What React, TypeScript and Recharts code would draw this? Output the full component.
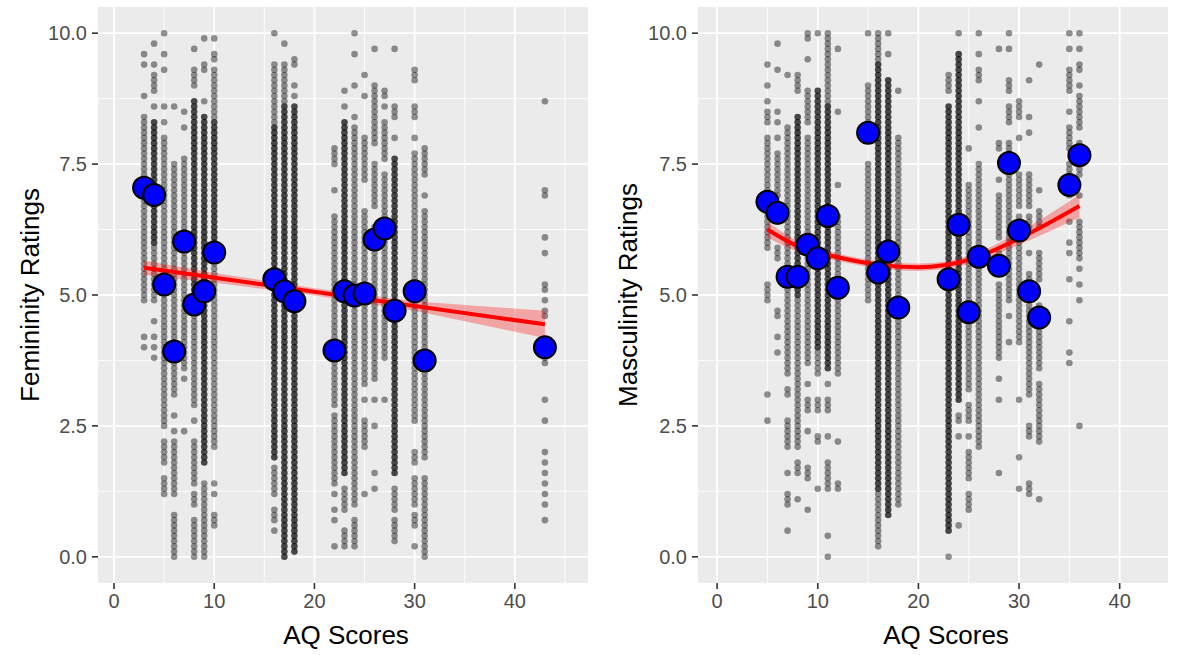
import * as React from 'react';
import { ComposedChart, Scatter, Line, Area, XAxis, YAxis, CartesianGrid } from 'recharts';

// femininity panel
const aqFem = [3, 4, 5, 6, 7, 8, 9, 10, 16, 17, 18, 22, 23, 24, 25, 26, 27, 28, 30, 31, 43];
const femMeans = [7.05, 6.91, 5.2, 3.92, 6.02, 4.82, 5.07, 5.81, 5.3, 5.07, 4.88, 3.94, 5.07, 4.99, 5.03, 6.06, 6.27, 4.7, 5.07, 3.75, 4.0];
// individual ratings per AQ column: "a-b" = every 0.1 step present, trailing d = dense/dark
const femRatings = [
  '9.6 9.4 8.8 7.3-8.4 4.9-7.2 4.2 4.0',
  '9.8 9.4 8.9-9.2 8.6 6.0-8.3d 4.9-5.9 4.5 4.2 4.0 3.8',
  '10.0 9.6 9.3 8.6 8.3 4.9-8.0 2.5-4.8 1.8-2.2 1.2-1.5',
  '8.6 4.9-7.5 3.1-4.8 2.7 2.4 1.2-2.2 0.0-0.8',
  '8.5 8.2 4.9-7.6 3.6-4.8 3.4 2.4',
  '9.7 9.0-9.3 5.0-8.7d 2.9-4.9 2.6 1.4-2.2 1.0-1.2 0.0-0.7',
  '9.9 9.3-9.4 8.7 1.8-8.4d 0.0-1.4',
  '9.9 9.5-9.6 8.4-9.3 5.8-8.3d 2.1-5.7 1.4 1.2 0.6-0.8',
  '10.0 8.3-9.4 1.9-8.2d 1.2-1.7 0.7-0.9 0.5',
  '9.8 8.7-9.4 0.0-8.6d',
  '9.4-9.5 9.0 8.8 0.1-8.6d',
  '7.5-7.8 7.0 2.9-6.5 1.7-2.7 1.4-1.6 1.2 0.9 0.7 0.2',
  '8.9 8.6 1.6-8.3d 0.9-1.3 0.2-0.5',
  '10.0 9.6 9.0 8.4 1.0-8.2 0.2-0.7',
  '9.2 8.8 7.2-8.0 3.3-6.6 3.0 2.1-2.6 1.2',
  '9.7 7.9-9.0 6.7-7.5 3.4-6.3 3.0 2.5 1.6 1.3',
  '8.8-8.9 8.6 7.6-8.3 3.8-7.3 3.0',
  '9.7 8.4-8.6 8.0 1.6-7.6d 0.9-1.3 0.3-0.7',
  '9.1-9.3 8.4-8.6 8.0 2.6-7.7 1.8-2.0 1.0-1.5 0.6-0.8 0.2',
  '7.3-7.8 6.9 1.9-6.6 0.0-1.5',
  '8.7 7.0 6.9 6.1 5.8 5.2 5.1 4.9 4.7 4.6 3.8 3.7 3.0 2.6 2.0 1.8 1.6 1.4 1.2 1.0 0.7',
];
const femFitAQ = [3, 43];
const femFit = [5.52, 4.44];
const femBandAQ = [3, 10, 20, 30, 43];
const femBandLow = [5.38, 5.24, 4.99, 4.7, 4.18];
const femBandHigh = [5.66, 5.42, 5.13, 4.88, 4.7];

// masculinity panel
const aqMasc = [5, 6, 7, 8, 9, 10, 11, 12, 15, 16, 17, 18, 23, 24, 25, 26, 28, 29, 30, 31, 32, 35, 36];
const mascMeans = [6.78, 6.57, 5.35, 5.35, 5.96, 5.7, 6.51, 5.14, 8.1, 5.43, 5.83, 4.76, 5.3, 6.34, 4.67, 5.73, 5.56, 7.52, 6.23, 5.07, 4.57, 7.1, 7.67];
const mascRatings = [
  '9.4 9.0 8.7 8.3-8.5 5.9-8.0 4.9-5.2 3.1 2.6',
  '9.8 9.3 8.5 8.3 8.0 6.9-7.7 6.4 5.7-5.9 4.6-4.7 4.2 3.9',
  '9.2 3.5-8.2 3.1-3.2 2.1-2.6 1.6 1.0-1.2 0.5',
  '8.9-9.2 5.0-8.4d 2.1-4.9 1.6-1.8 1.1',
  '9.9-10.0 9.5 8.3-8.9 3.7-8.0 3.3 2.8-3.0 2.4 1.5-1.7 0.9',
  '10.0 4.0-8.9d 3.5-3.9 2.8-3.0 2.2-2.3 1.3',
  '8.7-10.0 3.6-8.6d 3.3 2.8-3.0 2.3 1.3-1.8 0.4 0.0',
  '9.7 8.5 7.1 3.5-6.5 2.2 1.3-1.4',
  '10.0 8.1-9.0 4.9-7.5',
  '9.5-10.0 1.3-9.4d 0.2-1.2',
  '10.0 9.6 0.8-9.1d',
  '8.9 1.0-8.0',
  '8.9-9.2 0.5-8.6d 0.0',
  '10.0 3.0-9.6d 2.6-2.7 2.3 0.6',
  '7.8 3.2-7.1 2.6-2.9 2.3 1.5-2.0 0.9-1.2',
  '10.0 9.6 9.1-9.3 8.7 8.2 2.1-7.5',
  '9.7 7.8-7.9 7.2 6.1-6.9 5.8 3.8-5.2 3.4 3.0 1.6',
  '10.0 9.7 8.9-9.1 8.3-8.6 4.9-7.9 4.6 4.1',
  '8.4-8.7 8.0 6.7-7.3 4.1-6.5 3.0 1.9 1.3',
  '9.1 8.4 8.1 6.7-7.3 6.3-6.5 5.8 3.1-5.4 2.3-2.5 1.2-1.4',
  '9.4 7.0 6.3-6.6 5.3-5.8 3.6-4.8 2.2-3.3 1.1',
  '10.0 9.7 8.9-9.3 8.5 7.8-8.2 6.9-7.5 6.4 6.0 5.8 5.3 4.5 3.9 3.7',
  '10.0 9.7 9.3-9.4 9.0 8.2-8.8 7.3-7.9 6.9 5.7-6.4 5.5 5.2 4.9 2.5',
];
const mascFitAQ = [5, 8, 12, 16, 20, 25, 30, 36];
const mascFit = [6.25, 5.93, 5.72, 5.58, 5.53, 5.67, 6.08, 6.7];
const mascBandLow = [6.1, 5.83, 5.65, 5.51, 5.46, 5.59, 5.96, 6.48];
const mascBandHigh = [6.4, 6.03, 5.79, 5.65, 5.6, 5.75, 6.2, 6.92];

const xTicks = [0, 10, 20, 30, 40];
const xMinor = [5, 15, 25, 35, 45];
const yTicks = [0, 2.5, 5, 7.5, 10];
const yMinor = [1.25, 3.75, 6.25, 8.75];

const FONT = '"Liberation Sans", Arial, Helvetica, sans-serif';

type Pt = { x: number; y: number };

const splitRatings = (aq: number[], cols: string[]) => {
  const light: Pt[] = [];
  const dark: Pt[] = [];
  cols.forEach((spec, i) => {
    spec.split(' ').forEach((tok) => {
      const isDark = tok.endsWith('d');
      const t = isDark ? tok.slice(0, -1) : tok;
      const [a, b] = t.split('-').map(Number);
      const lo = Math.round(a * 10);
      const hi = Math.round((b ?? a) * 10);
      for (let k = lo; k <= hi; k++) (isDark ? dark : light).push({ x: aq[i], y: k / 10 });
    });
  });
  return { light, dark };
};

const smallDot = (opacity: number) => (p: any) =>
  <circle cx={p.cx} cy={p.cy} r={3.3} fill="#000" fillOpacity={opacity} />;

const bigDot = (p: any) =>
  <circle cx={p.cx} cy={p.cy} r={11} fill="#0000FF" stroke="#000" strokeWidth={2} />;

interface PanelProps {
  width: number;
  xDomain: [number, number];
  aq: number[];
  ratings: string[];
  means: number[];
  fitAQ: number[];
  fit: number[];
  bandAQ: number[];
  bandLow: number[];
  bandHigh: number[];
  curve: 'linear' | 'monotone';
}

const Panel: React.FC<PanelProps> = ({ width, xDomain, aq, ratings, means, fitAQ, fit, bandAQ, bandLow, bandHigh, curve }) => {
  const { light, dark } = splitRatings(aq, ratings);
  const meanPts = aq.map((x, i) => ({ x, y: means[i] }));
  const fitPts = fitAQ.map((x, i) => ({ x, y: fit[i] }));
  const bandPts = bandAQ.map((x, i) => ({ x, band: [bandLow[i], bandHigh[i]] }));
  const tickStyle = { fill: '#4D4D4D', fontSize: 20, fontFamily: FONT };

  return (
    <ComposedChart width={width} height={655} margin={{ top: 7, right: 2, bottom: 0, left: 0 }}>
      <CartesianGrid fill="#EBEBEB" stroke="#FFFFFF" strokeWidth={0.9} verticalValues={xMinor} horizontalValues={yMinor} />
      <CartesianGrid stroke="#FFFFFF" strokeWidth={1.8} verticalValues={xTicks} horizontalValues={yTicks} />
      <XAxis
        type="number" dataKey="x" domain={xDomain} allowDataOverflow ticks={xTicks} interval={0}
        height={72} axisLine={false} tickSize={6} tickMargin={5}
        tickLine={{ stroke: '#333333', strokeWidth: 1.6 }} tick={tickStyle}
      />
      <YAxis
        type="number" domain={[-0.5, 10.5]} allowDataOverflow ticks={yTicks} interval={0}
        width={98} axisLine={false} tickSize={6} tickMargin={5}
        tickLine={{ stroke: '#333333', strokeWidth: 1.6 }} tick={tickStyle}
        tickFormatter={(v: number) => v.toFixed(1)}
      />
      <Scatter data={light} dataKey="y" shape={smallDot(0.42)} isAnimationActive={false} zIndex={300} />
      <Scatter data={dark} dataKey="y" shape={smallDot(0.7)} isAnimationActive={false} zIndex={310} />
      <Area data={bandPts} dataKey="band" type={curve} stroke="none" fill="#FF0000" fillOpacity={0.3} isAnimationActive={false} zIndex={400} />
      <Line data={fitPts} dataKey="y" type={curve} stroke="#FF0000" strokeWidth={4} dot={false} isAnimationActive={false} zIndex={500} />
      <Scatter data={meanPts} dataKey="y" shape={bigDot} isAnimationActive={false} zIndex={600} />
    </ComposedChart>
  );
};

const title: React.CSSProperties = {
  position: 'absolute', fontFamily: FONT, fontSize: 26, color: '#000', whiteSpace: 'nowrap', lineHeight: 1,
};

export default function App() {
  return (
    <div style={{ position: 'absolute', left: 0, top: 0, width: 1187, height: 655, background: '#fff', overflow: 'hidden' }}>
      <div style={{ position: 'absolute', left: 0, top: 0 }}>
        <Panel
          width={590} xDomain={[-1.6, 47.3]} aq={aqFem} ratings={femRatings} means={femMeans}
          fitAQ={femFitAQ} fit={femFit} bandAQ={femBandAQ} bandLow={femBandLow} bandHigh={femBandHigh} curve="linear"
        />
      </div>
      <div style={{ position: 'absolute', left: 600, top: 0 }}>
        <Panel
          width={570} xDomain={[-1.9, 44.8]} aq={aqMasc} ratings={mascRatings} means={mascMeans}
          fitAQ={mascFitAQ} fit={mascFit} bandAQ={mascFitAQ} bandLow={mascBandLow} bandHigh={mascBandHigh} curve="monotone"
        />
      </div>
      <div style={{ ...title, left: 30, top: 295, transform: 'translate(-50%, -50%) rotate(-90deg)' }}>Femininity Ratings</div>
      <div style={{ ...title, left: 346, top: 635, transform: 'translate(-50%, -50%)' }}>AQ Scores</div>
      <div style={{ ...title, left: 628, top: 295, transform: 'translate(-50%, -50%) rotate(-90deg)' }}>Masculinity Ratings</div>
      <div style={{ ...title, left: 946, top: 635, transform: 'translate(-50%, -50%)' }}>AQ Scores</div>
    </div>
  );
}
